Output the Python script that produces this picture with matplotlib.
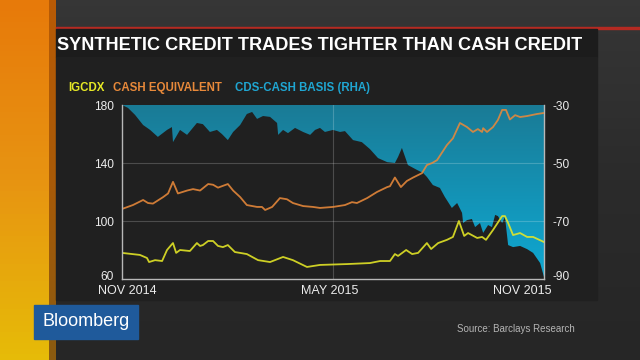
import numpy as np
import matplotlib
matplotlib.use('Agg')
import matplotlib.pyplot as plt
from matplotlib.patches import Rectangle
from matplotlib.colors import LinearSegmentedColormap
from matplotlib.transforms import ScaledTranslation

plt.rcParams['axes.unicode_minus'] = False

W, H = 640, 360

# ── data (months after Nov 2014) ──────────────────────────────────────────────
cash_months = [0.00, 0.31, 0.60, 0.74, 0.88, 1.17, 1.31, 1.45, 1.59, 1.85, 2.02, 2.22,
               2.45, 2.59, 2.73, 3.01, 3.16, 3.36, 3.55, 3.84, 3.98, 4.07, 4.27, 4.49,
               4.69, 4.86, 5.15, 5.43, 5.63, 6.00, 6.34, 6.54, 6.68, 6.97, 7.25, 7.54,
               7.62, 7.76, 7.93, 8.10, 8.28, 8.53, 8.67, 8.82, 8.96, 9.24, 9.41, 9.61,
               9.81, 9.98, 10.12, 10.24, 10.27, 10.38, 10.55, 10.69, 10.81, 10.92,
               11.03, 11.18, 11.32, 11.52, 11.80, 12.00]
cash_equiv = [108.3, 111, 114.5, 112.4, 112, 116.5, 119, 127, 119, 121, 122, 121,
              125.5, 125, 123, 125.5, 121, 116.5, 111, 109.7, 109.7, 107.6, 109.7, 115.8,
              115, 112.4, 110.3, 109.7, 109, 109.7, 111, 113, 112.4, 115.8, 120, 123.4,
              124, 130, 123.4, 127.6, 130, 133, 138.6, 140, 142, 152.4, 157, 167.6,
              164.8, 161.4, 163.4, 161.4, 164, 161.4, 164.8, 169.7, 176.6, 176.6,
              170, 173, 171.7, 172.4, 173.8, 174.5]

igcdx_months = [0.00, 0.51, 0.71, 0.77, 0.94, 1.14, 1.28, 1.42, 1.45, 1.54, 1.65, 1.93,
                2.13, 2.22, 2.30, 2.45, 2.59, 2.73, 2.87, 3.01, 3.21, 3.55, 3.87, 4.21,
                4.58, 4.86, 5.26, 5.63, 6.40, 7.05, 7.34, 7.62, 7.76, 7.85, 8.08, 8.25,
                8.42, 8.67, 8.79, 8.99, 9.24, 9.41, 9.58, 9.73, 9.84, 10.10, 10.24, 10.35,
                10.55, 10.81, 10.89, 10.98, 11.12, 11.32, 11.52, 11.69, 12.00]
igcdx = [78, 76.6, 74.5, 71.7, 73, 72.4, 80, 84, 84.8, 78, 80, 79.3,
         84.8, 82.8, 83.4, 86.2, 86.2, 82.8, 82, 83.4, 78.6, 77.2, 73, 71.7,
         75.2, 73, 68.3, 69.7, 70.3, 71, 72.4, 72.4, 77.2, 75.9, 80, 77.2,
         78, 84.8, 80.7, 84.8, 87, 89, 100, 89.7, 91.7, 88.3, 89, 87,
         93.8, 103.4, 103.4, 98.6, 90.3, 91.7, 89, 89, 85.5]

basis_months = [0.00, 0.17, 0.37, 0.60, 0.80, 1.02, 1.28, 1.42, 1.45, 1.65, 1.85, 2.13,
                2.30, 2.50, 2.70, 2.84, 3.01, 3.16, 3.36, 3.55, 3.70, 3.84, 4.01, 4.21,
                4.41, 4.44, 4.58, 4.72, 4.92, 5.15, 5.35, 5.49, 5.63, 5.77, 6.00, 6.20,
                6.34, 6.57, 6.82, 7.05, 7.28, 7.54, 7.76, 7.85, 7.96, 8.05, 8.13, 8.39,
                8.56, 8.67, 8.84, 9.04, 9.18, 9.38, 9.53, 9.67, 9.70, 9.81, 9.95, 10.04,
                10.18, 10.27, 10.41, 10.52, 10.61, 10.69, 10.81, 10.89, 10.98, 11.12,
                11.32, 11.52, 11.69, 11.89, 12.00]
cds_cash_basis = [-30, -31, -33.4, -36.9, -38.6, -41, -38.6, -37.6, -42.8, -38.6, -40.3, -36.2,
                  -36.6, -39.3, -38.6, -40, -42.1, -39.3, -36.9, -33.1, -32.4, -34.8, -33.8, -34.1,
                  -36.2, -40.3, -38.6, -39.7, -37.9, -39.3, -40.3, -38.6, -37.9, -39.3, -38.6, -39.3,
                  -39, -42.1, -42.8, -45.2, -48.3, -49.7, -50, -47.9, -44.8, -47.9, -50.7, -52.4,
                  -53.4, -54.8, -57.6, -58.6, -61.7, -65.5, -63.8, -67.2, -70.7, -69.7, -69.3, -72.1,
                  -70.7, -74.1, -71.4, -72.1, -67.9, -68.3, -70.7, -68.6, -78.3, -79,
                  -78.6, -79.7, -81, -84.5, -89.3]

x_ticks = [0, 6, 12]
x_labels = ['NOV 2014', 'MAY 2015', 'NOV 2015']
left_ticks = [60, 100, 140, 180]
right_ticks = [-90, -70, -50, -30]

TITLE = 'SYNTHETIC CREDIT TRADES TIGHTER THAN CASH CREDIT'
YELLOW = '#e6e826'
ORANGE = '#e8893a'
BLUE_TXT = '#1fa6d2'

SANS = ['Liberation Sans', 'DejaVu Sans']


def box(x0, y0, x1, y1):
    """pixel box (top-left origin) -> figure fractions [l, b, w, h]"""
    return [x0 / W, 1 - y1 / H, (x1 - x0) / W, (y1 - y0) / H]


def fx(x):
    return x / W


def fy(y):
    return 1 - y / H


def panel(x0, y0, x1, y1, color, z=-8):
    r = box(x0, y0, x1, y1)
    fig.add_artist(Rectangle(r[:2], r[2], r[3], transform=fig.transFigure,
                             color=color, zorder=z))


def vgrad(rect, colors, z=-9):
    a = fig.add_axes(rect, zorder=z)
    a.axis('off')
    a.imshow(np.linspace(0, 1, 64).reshape(-1, 1),
             cmap=LinearSegmentedColormap.from_list('g', colors),
             aspect='auto', origin='upper')
    return a


fig = plt.figure(figsize=(6.4, 3.6), dpi=100)
fig.patch.set_facecolor('#2a2a2a')

# background pieces
vgrad([0, 0, 1, 1], ['#363636', '#2b2b2b', '#262626'], z=-10)
vgrad(box(0, 0, 49, 360), ['#e77a0a', '#e89412', '#e6bb08'])
vgrad(box(49, 0, 56, 360), ['#b85a05', '#a85a08', '#8a5a10'])

panel(56, 27, 640, 29, '#b52a22')
panel(56, 29, 597, 57, '#1c1c1c')
panel(56, 57, 597, 300, '#202020')

fig.text(fx(57), fy(45), TITLE, color='white', fontsize=13.1, fontweight='bold',
         family=SANS, ha='left', va='center')

# legend row
fig.text(fx(68), fy(88), 'IGCDX', color=YELLOW, fontsize=8.3, fontweight='bold',
         family=SANS, ha='left', va='center')
fig.text(fx(113), fy(88), 'CASH EQUIVALENT', color=ORANGE, fontsize=8.3, fontweight='bold',
         family=SANS, ha='left', va='center')
fig.text(fx(235), fy(88), 'CDS-CASH BASIS (RHA)', color=BLUE_TXT, fontsize=8.3,
         fontweight='bold', family=SANS, ha='left', va='center')

# ── chart ─────────────────────────────────────────────────────────────────────
ax = fig.add_axes(box(122, 105, 544, 279))
ax2 = ax.twinx()
ax.set_zorder(ax2.get_zorder() + 1)
ax.patch.set_visible(False)
ax2.set_facecolor('#222222')

# basis area: blue from line up to the top, gradient
poly = ax2.fill_between(basis_months, cds_cash_basis, -30, color='none', lw=0)
grad = np.linspace(0, 1, 128).reshape(-1, 1)
im = ax2.imshow(grad, extent=[0, 12, -90, -30], aspect='auto', origin='lower',
                cmap=LinearSegmentedColormap.from_list('bl', ['#0ea9d3', '#1a7b96']))
im.set_clip_path(poly.get_paths()[0], transform=ax2.transData)
ax2.set_ylim(-90, -30)
ax2.set_xlim(0, 12)

for yv in [100, 140]:
    ax.axhline(yv, color='white', alpha=0.2, lw=0.8)
ax.axvline(6, color='white', alpha=0.2, lw=0.8)

ax.plot(cash_months, cash_equiv, color=ORANGE, lw=1.3, alpha=0.88)
ax.plot(igcdx_months, igcdx, color=YELLOW, lw=1.3, alpha=0.88)

ax.set_xlim(0, 12)
ax.set_ylim(60, 180)
ax.set_yticks(left_ticks)
ax2.set_yticks(right_ticks)
ax.set_xticks(x_ticks)
ax.set_xticklabels(x_labels)

for a in (ax, ax2):
    for s in a.spines.values():
        s.set_visible(False)
ax.spines['left'].set_visible(True)
ax.spines['bottom'].set_visible(True)
ax2.spines['right'].set_visible(True)
for s in (ax.spines['left'], ax.spines['bottom'], ax2.spines['right']):
    s.set_color('#b8b8b8')
    s.set_linewidth(1.0)

ax.tick_params(axis='y', length=0, pad=6, labelsize=8.6, labelcolor='#ececec')
ax.tick_params(axis='x', length=0, pad=4, labelsize=9, labelcolor='#ececec')
ax2.tick_params(axis='y', length=0, pad=6, labelsize=8.6, labelcolor='#ececec')
for lab in ax.get_xticklabels() + ax.get_yticklabels() + ax2.get_yticklabels():
    lab.set_family(SANS)

# nudge x labels to match the original placement
for lab, dx in zip(ax.get_xticklabels(), [5, -3, -22]):
    lab.set_transform(lab.get_transform() + ScaledTranslation(dx / 100, 0, fig.dpi_scale_trans))
# bottom left/right value labels sit a little above the axis line
for lab in (ax.get_yticklabels()[0], ax2.get_yticklabels()[0]):
    lab.set_transform(lab.get_transform() + ScaledTranslation(0, 3 / 100, fig.dpi_scale_trans))

# footer
panel(34, 305, 138, 339, '#1f5a9b', z=5)
fig.text(fx(86), fy(322), 'Bloomberg', color='white', fontsize=13, family=SANS,
         ha='center', va='center', zorder=6)
fig.text(fx(575), fy(329), 'Source: Barclays Research', color='#b4b4b4', fontsize=7,
         family=SANS, ha='right', va='center')

fig.savefig('out.png', dpi=100, facecolor=fig.get_facecolor())
